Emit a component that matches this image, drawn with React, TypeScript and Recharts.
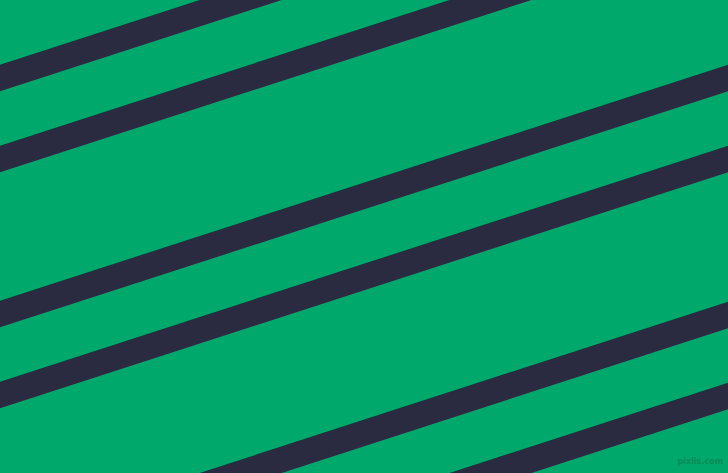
import React from "react";
import { ComposedChart, Line, XAxis, YAxis } from "recharts";

// Stripe centre lines: y value at the left end (x = -40) and right end (x = 768)
const stripeNames = ["s1", "s2", "s3", "s4", "s5", "s6"];
const xStart = -40;
const xEnd = 768;
const yAtStart = [91, 172, 327, 408, 564, 645];
const yAtEnd = [-171, -90, 65, 146, 302, 383];

const W = 728;
const H = 473;

export default function App() {
  return (
    <div
      style={{
        position: "fixed",
        left: 0,
        top: 0,
        width: W,
        height: H,
        background: "#00a86b",
        overflow: "hidden",
      }}
    >
      <ComposedChart width={W} height={H} margin={{ top: 0, right: 0, bottom: 0, left: 0 }}>
        <XAxis type="number" dataKey="x" domain={[0, W]} allowDataOverflow hide />
        <YAxis type="number" domain={[0, H]} reversed allowDataOverflow hide />
        {stripeNames.map((name, i) => (
          <Line
            key={name}
            name={name}
            data={[
              { x: xStart, y: yAtStart[i] },
              { x: xEnd, y: yAtEnd[i] },
            ]}
            dataKey="y"
            type="linear"
            stroke="#2a2a41"
            strokeWidth={25.3}
            dot={false}
            activeDot={false}
            isAnimationActive={false}
          />
        ))}
      </ComposedChart>
      <span
        style={{
          position: "absolute",
          right: 5,
          top: 457,
          whiteSpace: "nowrap",
          fontFamily: "DejaVu Sans, sans-serif",
          fontSize: 8,
          fontWeight: "bold",
          color: "#0b8c58",
        }}
      >
        pixlis.com
      </span>
    </div>
  );
}
